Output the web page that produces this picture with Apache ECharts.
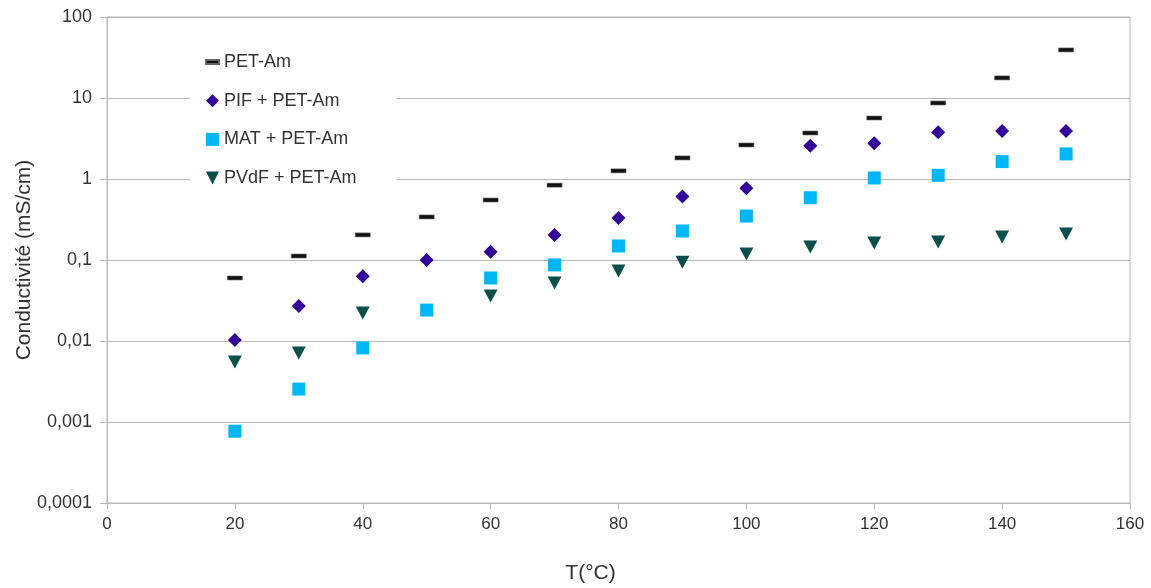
<!DOCTYPE html>
<html>
<head>
<meta charset="utf-8">
<script src="https://cdn.jsdelivr.net/npm/echarts@6/dist/echarts.min.js"></script>
<style>html,body{margin:0;padding:0;background:#fff}#c{width:1151px;height:588px}</style>
</head>
<body>
<div id="c"></div>
<script>
const temperatures = [20, 30, 40, 50, 60, 70, 80, 90, 100, 110, 120, 130, 140, 150];
const petAm  = [0.060, 0.112, 0.204, 0.34, 0.55, 0.84, 1.26, 1.82, 2.63, 3.70, 5.66, 8.67, 17.7, 39.2];
const pifPetAm  = [0.0103, 0.027, 0.063, 0.100, 0.126, 0.204, 0.33, 0.61, 0.77, 2.58, 2.76, 3.77, 3.92, 3.92];
const matPetAm  = [0.00077, 0.00255, 0.0082, 0.0241, 0.060, 0.087, 0.149, 0.228, 0.349, 0.587, 1.03, 1.11, 1.64, 2.04];
const pvdfPetAm = [0.0055, 0.0071, 0.0222, null, 0.036, 0.052, 0.073, 0.094, 0.119, 0.145, 0.162, 0.167, 0.192, 0.209];
const seriesNames = ['PET-Am', 'PIF + PET-Am', 'MAT + PET-Am', 'PVdF + PET-Am'];
const yTickLabels = ['0,0001', '0,001', '0,01', '0,1', '1', '10', '100'];
const xTickLabels = ['0', '20', '40', '60', '80', '100', '120', '140', '160'];

function pairs(vals) { return temperatures.map((t, i) => [t, vals[i]]).filter(p => p[1] != null); }

const chart = echarts.init(document.getElementById('c'), null, {renderer: 'canvas'});
const axisColor = '#b8b8b8';
const font = 'Liberation Sans, Arial, sans-serif';
chart.setOption({
  animation: false,
  backgroundColor: '#fff',
  textStyle: {fontFamily: font},
  grid: {left: 107, right: 21, top: 17, bottom: 85, show: true, borderColor: axisColor, borderWidth: 1,
         containLabel: false, outerBoundsMode: 'none'},
  xAxis: {
    type: 'value', min: 0, max: 160, interval: 20,
    name: 'T(°C)', nameLocation: 'middle', nameGap: 60, nameMoveOverlap: false,
    nameTextStyle: {fontSize: 21, color: '#333', fontFamily: font, padding: [0, 56, 0, 0]},
    axisLine: {show: true, lineStyle: {color: axisColor}},
    axisTick: {show: true, inside: false, length: 6, lineStyle: {color: axisColor}},
    axisLabel: {fontSize: 17, color: '#333', margin: 13, formatter: (v) => xTickLabels[Math.round(v / 20)]},
    splitLine: {show: false}
  },
  yAxis: {
    type: 'log', logBase: 10, min: 0.0001, max: 100,
    name: 'Conductivité (mS/cm)', nameLocation: 'middle', nameGap: 72, nameMoveOverlap: false,
    nameTextStyle: {fontSize: 21, color: '#333', fontFamily: font},
    axisLine: {show: true, lineStyle: {color: axisColor}},
    axisTick: {show: true, inside: false, length: 7, lineStyle: {color: axisColor}},
    axisLabel: {fontSize: 18, color: '#333', margin: 15,
      formatter: (v) => yTickLabels[Math.round(Math.log10(v)) + 4]},
    splitLine: {show: true, lineStyle: {color: axisColor, width: 1}},
    minorTick: {show: false}
  },
  legend: {
    orient: 'vertical', left: 190, top: 43,
    padding: [10, 40, 10, 15],
    backgroundColor: '#fff',
    itemWidth: 13, itemHeight: 13, itemGap: 20.7,
    textStyle: {fontSize: 18, lineHeight: 18, color: '#333', fontFamily: font, padding: [0, 0, 0, 0]},
    data: [
      {name: seriesNames[0], icon: 'path://M0,0H13V4H0Z'},
      {name: seriesNames[1], icon: 'diamond'},
      {name: seriesNames[2], icon: 'rect'},
      {name: seriesNames[3], icon: 'path://M0,0L12,0L6,12Z'}
    ]
  },
  series: [
    {name: seriesNames[0], type: 'scatter', data: pairs(petAm), symbol: 'rect', symbolSize: [15, 4],
     itemStyle: {color: '#111111', opacity: 1, borderColor: '#666', borderWidth: 0.5}},
    {name: seriesNames[1], type: 'scatter', data: pairs(pifPetAm), symbol: 'diamond', symbolSize: [14, 14],
     itemStyle: {color: '#33009a', opacity: 1}},
    {name: seriesNames[2], type: 'scatter', data: pairs(matPetAm), symbol: 'rect', symbolSize: [13, 13],
     itemStyle: {color: '#00b7f5', opacity: 1}},
    {name: seriesNames[3], type: 'scatter', data: pairs(pvdfPetAm), symbol: 'triangle', symbolRotate: 180, symbolSize: [14, 13],
     itemStyle: {color: '#0b4f4c', opacity: 1}}
  ]
});
</script>
</body>
</html>
